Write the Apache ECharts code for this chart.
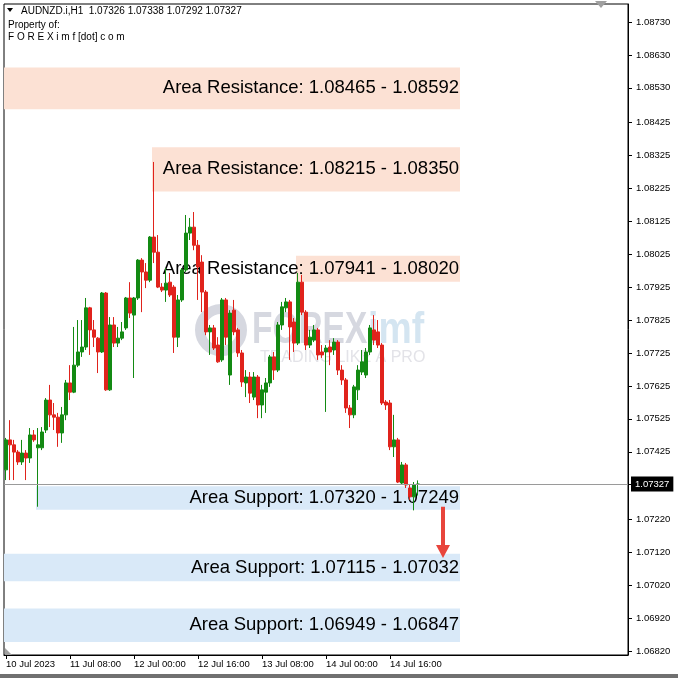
<!DOCTYPE html>
<html><head><meta charset="utf-8">
<script src="https://cdn.jsdelivr.net/npm/echarts@6/dist/echarts.min.js"></script>
<style>html,body{margin:0;padding:0;background:#fff}#c{width:678px;height:678px}</style>
</head><body><div id="c"></div>
<script>
// ---- data ----
const symbolTitle = 'AUDNZD.i,H1  1.07326 1.07338 1.07292 1.07327';
const slotCount = 156; // hourly slots shown on the time axis (bars + empty space)
const firstBarUTC = Date.UTC(2023, 6, 10, 16);
const open = [1.07370,1.07461,1.07446,1.07424,1.07394,1.07421,1.07406,1.07476,1.07437,1.07437,
1.07491,1.07582,1.07537,1.07530,1.07482,1.07537,1.07634,1.07606,1.07688,1.07728,
1.07743,1.07862,1.07795,1.07770,1.07728,1.07907,1.07613,1.07810,1.07755,1.07770,
1.07801,1.07892,1.07840,1.07892,1.08007,1.07971,1.07946,1.08077,1.08031,1.07925,
1.07916,1.07940,1.07925,1.07773,1.07886,1.07977,1.08089,1.08107,1.08052,1.08001,
1.07910,1.07789,1.07801,1.07749,1.07704,1.07886,1.07658,1.07855,1.07795,1.07725,
1.07634,1.07652,1.07591,1.07652,1.07567,1.07606,1.07634,1.07713,1.07673,1.07810,
1.07862,1.07880,1.07819,1.07755,1.07940,1.07849,1.07749,1.07764,1.07795,1.07728,
1.07728,1.07743,1.07734,1.07758,1.07673,1.07643,1.07558,1.07537,1.07613,1.07667,
1.07658,1.07728,1.07795,1.07789,1.07749,1.07576,1.07573,1.07440,1.07461,1.07330,
1.07385,1.07315,1.07288,1.07326];
const close = [1.07461,1.07446,1.07424,1.07394,1.07421,1.07406,1.07476,1.07461,1.07446,1.07485,
1.07582,1.07537,1.07530,1.07482,1.07537,1.07634,1.07606,1.07688,1.07728,1.07743,
1.07862,1.07795,1.07773,1.07728,1.07907,1.07613,1.07810,1.07755,1.07770,1.07789,
1.07892,1.07846,1.07892,1.08007,1.07971,1.07946,1.08077,1.08031,1.07925,1.07916,
1.07937,1.07901,1.07773,1.07886,1.07977,1.08089,1.08107,1.08052,1.07986,1.07910,
1.07789,1.07801,1.07740,1.07698,1.07886,1.07773,1.07846,1.07789,1.07725,1.07637,
1.07652,1.07603,1.07652,1.07567,1.07613,1.07634,1.07713,1.07673,1.07810,1.07865,
1.07880,1.07804,1.07755,1.07940,1.07849,1.07749,1.07773,1.07795,1.07719,1.07719,
1.07740,1.07728,1.07758,1.07673,1.07643,1.07558,1.07537,1.07622,1.07673,1.07698,
1.07728,1.07801,1.07764,1.07749,1.07573,1.07567,1.07440,1.07461,1.07333,1.07385,
1.07324,1.07288,1.07324,1.07327];
const low = [1.07339,1.07339,1.07339,1.07385,1.07385,1.07339,1.07391,1.07455,1.07258,1.07430,
1.07482,1.07500,1.07491,1.07440,1.07452,1.07521,1.07582,1.07603,1.07682,1.07713,
1.07734,1.07719,1.07743,1.07664,1.07725,1.07610,1.07610,1.07743,1.07743,1.07764,
1.07795,1.07831,1.07649,1.07886,1.07849,1.07922,1.07940,1.07998,1.07922,1.07910,
1.07880,1.07895,1.07725,1.07743,1.07880,1.07971,1.08068,1.08037,1.07886,1.07849,
1.07779,1.07719,1.07734,1.07695,1.07698,1.07749,1.07628,1.07779,1.07713,1.07622,
1.07591,1.07573,1.07582,1.07527,1.07527,1.07543,1.07622,1.07643,1.07667,1.07795,
1.07849,1.07704,1.07728,1.07749,1.07840,1.07734,1.07740,1.07758,1.07704,1.07710,
1.07546,1.07688,1.07719,1.07658,1.07628,1.07543,1.07497,1.07527,1.07582,1.07658,
1.07649,1.07719,1.07749,1.07740,1.07567,1.07552,1.07430,1.07409,1.07330,1.07324,
1.07315,1.07279,1.07247,1.07292];
const high = [1.07467,1.07521,1.07461,1.07430,1.07461,1.07430,1.07497,1.07491,1.07497,1.07500,
1.07588,1.07628,1.07573,1.07543,1.07561,1.07643,1.07688,1.07804,1.07825,1.07825,
1.07892,1.07865,1.07825,1.07773,1.07910,1.07910,1.07834,1.07834,1.07804,1.07819,
1.07895,1.07940,1.07895,1.08010,1.08013,1.07998,1.08080,1.08305,1.08083,1.07937,
1.07983,1.07968,1.07931,1.07901,1.07983,1.08144,1.08135,1.08153,1.08068,1.08022,
1.07916,1.07810,1.07810,1.07773,1.07892,1.07892,1.07855,1.07886,1.07801,1.07734,
1.07673,1.07667,1.07667,1.07658,1.07628,1.07649,1.07719,1.07728,1.07819,1.07880,
1.07892,1.07886,1.07831,1.07968,1.07962,1.07855,1.07795,1.07810,1.07801,1.07749,
1.07749,1.07764,1.07770,1.07764,1.07688,1.07649,1.07567,1.07628,1.07688,1.07734,
1.07740,1.07810,1.07840,1.07825,1.07755,1.07582,1.07582,1.07537,1.07467,1.07394,
1.07391,1.07324,1.07333,1.07338];
const tickIndex = [0,16,32,48,64,80,96];
const tickLabels = ['10 Jul 2023','11 Jul 08:00','12 Jul 00:00','12 Jul 16:00','13 Jul 08:00','14 Jul 00:00','14 Jul 16:00'];
const priceTicks = [1.08730,1.08630,1.08530,1.08425,1.08325,1.08225,1.08125,1.08025,1.07925,1.07825,
1.07725,1.07625,1.07525,1.07425,1.07327,1.07220,1.07120,1.07020,1.06920,1.06820];
const lastPrice = 1.07327;
const zoneLabels = ['Area Resistance: 1.08465 - 1.08592','Area Resistance: 1.08215 - 1.08350','Area Resistance: 1.07941 - 1.08020',
'Area Support: 1.07320 - 1.07249','Area Support: 1.07115 - 1.07032','Area Support: 1.06949 - 1.06847'];
const zoneLow = [1.08465,1.08215,1.07941,1.07249,1.07032,1.06847];
const zoneHigh = [1.08592,1.08350,1.08020,1.07320,1.07115,1.06949];
const zoneStartBar = [0,37,73,8,0,0];
const zoneEndBar = 114;
const arrowBar = 109.75, arrowFrom = 1.07258, arrowTo = 1.07122;
const yMin = 1.068078, yMax = 1.087847;

// ---- build ----
const pad = n => String(n).padStart(2,'0');
const times = Array.from({length: slotCount}, (_, i) => {
  const d = new Date(firstBarUTC + i * 3600e3);
  return d.getUTCFullYear() + '.' + pad(d.getUTCMonth()+1) + '.' + pad(d.getUTCDate()) + ' ' + pad(d.getUTCHours()) + ':00';
});
const candles = open.map((o, i) => [o, close[i], low[i], high[i]]);
const font = 'Liberation Sans';
const isRes = s => s.indexOf('Resistance') >= 0;
const zoneFill = zoneLabels.map((s, k) => [
  {name: s, xAxis: zoneStartBar[k], yAxis: zoneLow[k], itemStyle: {color: isRes(s) ? '#fce1d4' : '#d9e9f8'}},
  {xAxis: zoneEndBar, yAxis: zoneHigh[k]}
]);
const zoneText = zoneLabels.map((s, k) => [
  {name: s, xAxis: zoneStartBar[k], yAxis: zoneLow[k]},
  {xAxis: zoneEndBar, yAxis: zoneHigh[k]}
]);

const chart = echarts.init(document.getElementById('c'));
chart.setOption({
  animation: false,
  backgroundColor: '#fff',
  grid: {left: 4, right: 50, top: 4, bottom: 23, show: true, borderColor: '#000', borderWidth: 1},
  xAxis: [{
    type: 'category', data: times, boundaryGap: true,
    axisLine: {show: true, onZero: false, lineStyle: {color: '#000'}},
    axisTick: {show: true, alignWithLabel: true, length: 4, interval: i => tickIndex.includes(i), lineStyle: {color: '#000'}},
    axisLabel: {show: true, interval: i => tickIndex.includes(i), formatter: (v, i) => tickLabels[tickIndex.indexOf(i)],
      align: 'left', margin: 4, color: '#000', fontSize: 9.5, fontFamily: font},
    splitLine: {show: false}
  }, {type: 'value', min: 0, max: slotCount, show: false, splitLine: {show: false}, axisTick: {show: false}, axisLine: {show: false, onZero: false}, axisLabel: {show: false}}],
  yAxis: {
    type: 'value', position: 'right', min: yMin, max: yMax, scale: true,
    axisLine: {show: true, onZero: false, lineStyle: {color: '#000'}},
    axisTick: {show: true, inside: false, length: 4, customValues: priceTicks, lineStyle: {color: '#000'}},
    axisLabel: {customValues: priceTicks.filter(v => v !== lastPrice), formatter: v => v.toFixed(5),
      color: '#000', fontSize: 9.5, fontFamily: font, margin: 8},
    splitLine: {show: false}, minorTick: {show: false}
  },
  graphic: [
    {type: 'rect', shape: {x: 0, y: 674, width: 678, height: 4}, style: {fill: '#707070'}, silent: true},
    {type: 'circle', z: 0, shape: {cx: 221, cy: 330, r: 21}, style: {fill: 'none', stroke: '#d6d8e0', lineWidth: 10}, silent: true},
    {type: 'text', z: 0, x: 252, y: 331, scaleX: 0.76, style: {text: 'FOREX', font: 'bold 44px Liberation Sans', fill: '#d6d8e0', textVerticalAlign: 'middle'}, silent: true},
    {type: 'text', z: 0, x: 368, y: 331, scaleX: 0.85, style: {text: 'imf', font: 'bold 44px Liberation Sans', fill: '#d4e5f1', textVerticalAlign: 'middle'}, silent: true},
    {type: 'text', z: 0, x: 260, y: 358, style: {text: 'TRADING LIKE A PRO', font: '16px Liberation Sans', fill: '#e3e3e8', textVerticalAlign: 'middle'}, silent: true},
    {type: 'polygon', shape: {points: [[7, 8], [13, 8], [10, 12]]}, style: {fill: '#000'}},
    {type: 'text', x: 21, y: 11, style: {text: symbolTitle, font: '10px Liberation Sans', fill: '#000', textVerticalAlign: 'middle'}},
    {type: 'text', x: 8, y: 25, style: {text: 'Property of:', font: '10px Liberation Sans', fill: '#000', textVerticalAlign: 'middle'}},
    {type: 'text', x: 8, y: 37, style: {text: 'F O R E X i m f [dot] c o m', font: '10px Liberation Sans', fill: '#000', textVerticalAlign: 'middle'}},
    {type: 'polygon', shape: {points: [[595, 1], [607, 1], [601, 8]]}, style: {fill: '#a0a0a0'}},
    {type: 'polygon', shape: {points: [[5, 648], [5, 655], [12, 655]]}, style: {fill: '#a0a0a0'}}
  ],
  series: [
    {type: 'line', xAxisIndex: 1, yAxisIndex: 0, data: [], z: 1, silent: true,
      markArea: {silent: true, label: {show: false}, data: zoneFill}},
    {type: 'candlestick', xAxisIndex: 0, yAxisIndex: 0, data: candles, z: 2, barWidth: 3,
      itemStyle: {color: '#138a13', color0: '#e0231c', borderColor: '#138a13', borderColor0: '#e0231c', borderWidth: 1}},
    {type: 'line', xAxisIndex: 1, yAxisIndex: 0, data: [], z: 3, silent: true,
      markLine: {silent: true, symbol: 'none', animation: false, data: [
        [{coord: [0, lastPrice], lineStyle: {color: '#9a9a9a', width: 1, type: 'solid'},
          label: {show: true, position: 'end', distance: 3, formatter: lastPrice.toFixed(5), backgroundColor: '#000',
            color: '#fff', padding: [3, 4, 2, 4], fontSize: 9.5, fontFamily: font}},
         {coord: [slotCount, lastPrice]}],
        [{coord: [arrowBar, arrowFrom], symbol: 'none', lineStyle: {color: '#e8453c', width: 4, type: 'solid'}, label: {show: false}},
         {coord: [arrowBar, arrowTo], symbol: 'triangle', symbolSize: [14, 13]}]
      ]}},
    {type: 'line', xAxisIndex: 1, yAxisIndex: 0, data: [], z: 5, silent: true,
      markArea: {silent: true, itemStyle: {color: 'rgba(0,0,0,0)'},
        label: {show: true, position: 'insideRight', distance: 1, color: '#000', fontSize: 18.5, fontFamily: font, formatter: '{b}'},
        data: zoneText}}
  ]
});
</script></body></html>
